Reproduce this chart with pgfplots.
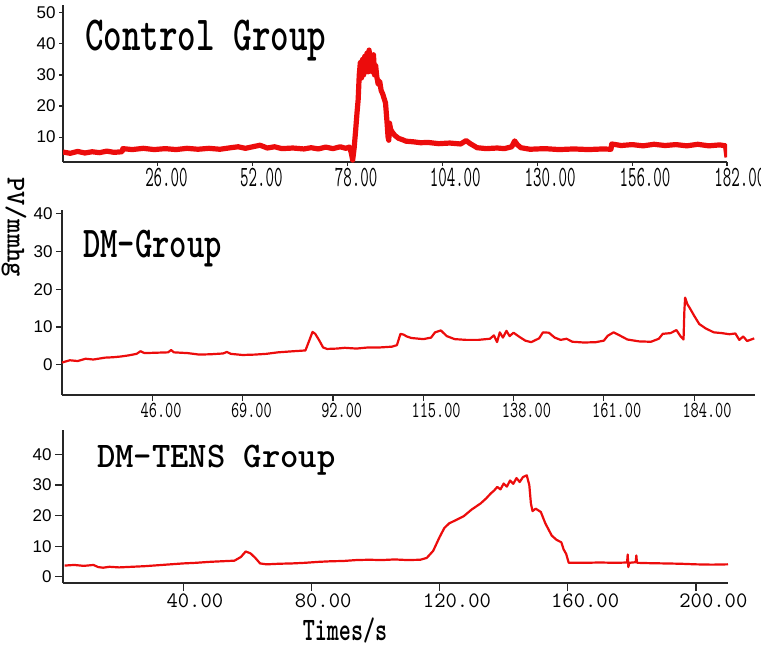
\documentclass[border=0pt]{standalone}
\usepackage{fontspec}
\setmainfont{Liberation Mono}
\newfontfamily\sansf{Liberation Sans}
\usepackage{graphicx}
\usepackage{pgfplots}
\pgfplotsset{compat=1.18}
\definecolor{trace}{RGB}{236,12,12}

\pgfplotsset{
  panel/.style={
    scale only axis,
    axis x line=bottom, axis y line=left,
    axis line style={-, black!85, line width=1pt},
    tick align=outside,
    tick style={black!85, line width=0.6pt},
    minor tick num=0,
    /pgf/number format/assume math mode=true,
    yticklabel style={font=\sansf\fontsize{8.5}{9}\selectfont, inner xsep=1.5pt},
    xticklabel style={anchor=north west, inner xsep=0pt, inner ysep=1pt},
    clip mode=individual,
  },
  trc/.style={trace, line width=#1, line join=round, mark=none},
}

\begin{document}
\begin{tikzpicture}
\useasboundingbox (0,0) rectangle (380.5pt,-324.5pt);

% ---- Control group
\begin{axis}[panel,
  at={(31.5pt,-81pt)}, anchor=south west,
  width=332pt, height=78.5pt,
  xmin=0, xmax=182, ymin=2, ymax=52.5,
  xtick={26,52,78,104,130,156,182},
  ytick={10,20,30,40,50},
  major tick length=2pt,
  xticklabel={\scalebox{0.56}[1]{\pgfmathprintnumber[fixed,fixed zerofill,precision=2]{\tick}}},
  xticklabel style={font=\ttfamily\fontsize{14.7}{14.7}\selectfont, xshift=-6.5pt},
]
\addplot[trc=2.6pt] coordinates {
(0,5.2)(2,4.8)(4,5.4)(6,4.9)(8,5.3)(10,5.0)(12,5.5)(14,5.1)(16.2,5.3)(16.4,6.3)
(19,6.0)(22,6.4)(25,6.0)(28,6.3)(31,6.0)(34,6.4)(37,6.1)(40,6.4)(43,6.1)(46,6.6)
(48,6.9)(50,6.4)(52,6.9)(54,7.4)(56,6.5)(58,6.9)(60,6.3)(63,6.5)(66,6.2)(68,6.6)
(70,6.2)(72,6.8)(74,6.3)(76,6.9)(77.5,6.4)(78.5,6.8)(79,5.0)(79.4,2.6)(79.8,6.5)
(80.2,12)(80.6,18)(80.9,22)(81.2,30)(81.5,34)(81.8,29)(82.1,35)(82.4,30)(82.7,36)
(83.0,31)(83.3,37)(83.6,31)(83.9,38)(84.2,32)(84.5,36)(84.8,31)(85.1,36.5)(85.4,30)
(85.7,33)(86.0,29.5)(86.4,27)(86.8,28)(87.2,25)(87.6,24)(88,22.5)(88.4,21)(88.8,15)
(89.1,10)(89.3,9)(89.5,14.5)(89.8,12.5)(90.3,11.5)(91,10.5)(92,9.6)(93,9.2)(94,8.7)
(96,8.5)(98,8.2)(100,8.3)(103,7.9)(106,8.1)(109,7.8)(110.5,8.9)(111.5,8.0)(112.5,7.3)
(113.5,6.6)(116,6.3)(119,6.5)(121,6.3)(123,6.9)(123.8,8.8)(124.5,7.6)(125.5,6.6)
(128,6.1)(132,6.3)(136,6.0)(140,6.2)(144,6.0)(148,6.2)(150.2,6.1)(150.4,7.8)(153,7.3)
(156,7.6)(159,7.2)(162,7.7)(165,7.3)(168,7.6)(171,7.2)(174,7.7)(177,7.2)(180,7.5)
(181.6,7.2)(182,3.5)
};
\node[anchor=base west, inner sep=0pt, font=\ttfamily\bfseries\fontsize{24.5}{24.5}\selectfont]
  at (rel axis cs:0.033,0.713) {\scalebox{0.72}[1]{Control Group}};
\end{axis}

% ---- DM group
\begin{axis}[panel,
  at={(31pt,-197.5pt)}, anchor=south west,
  width=346.5pt, height=92.5pt,
  xmin=23, xmax=199.5, ymin=-8, ymax=41,
  xtick={46,69,92,115,138,161,184},
  ytick={0,10,20,30,40},
  major tick length=3pt,
  xticklabel={\scalebox{0.69}[1]{\pgfmathprintnumber[fixed,fixed zerofill,precision=2]{\tick}}},
  xticklabel style={font=\ttfamily\fontsize{11.5}{11.5}\selectfont, xshift=-6pt},
]
\addplot[trc=1.1pt] coordinates {
(23,0.6)(25,1.2)(27,1.0)(29,1.6)(31,1.4)(34,1.9)(36,2.0)(38,2.2)(40,2.5)(42,2.9)
(43,3.6)(44,3.1)(47,3.2)(50,3.3)(50.8,3.9)(51.5,3.3)(55,3.1)(58,2.7)(61,2.8)(64,3.0)
(65,3.4)(66,2.9)(69,2.6)(72,2.7)(75,2.9)(78,3.3)(82,3.6)(85,3.8)(86,6.5)(86.8,8.7)
(87.5,8.2)(88.5,6.5)(89.5,4.6)(90.5,4.2)(93,4.3)(95,4.5)(98,4.3)(101,4.6)(104,4.6)
(107,4.8)(108.3,5.2)(109.2,8.2)(110,8.0)(110.8,7.5)(112,7.1)(115,6.8)(117,7.2)
(118,8.6)(119.5,9.1)(121,7.6)(123,6.8)(126,6.6)(129,6.6)(132,6.9)(133,7.8)(133.8,6.0)
(134.5,8.6)(135.3,7.2)(136.2,9.0)(137,7.6)(138,8.5)(139.5,7.4)(141,6.4)(142.5,6.0)
(144.5,7.0)(145.5,8.6)(147,8.5)(148.5,7.2)(150,6.6)(151.5,6.9)(153,6.1)(156,5.9)
(159,6.0)(161,6.4)(162,7.7)(163.5,8.6)(165,7.8)(167,6.7)(170,6.2)(173,6.1)(175,6.9)
(176,8.2)(178,8.4)(179.5,9.2)(180.5,7.6)(181.3,6.7)(181.5,14)(181.7,17.8)(182.3,16)
(182.8,15.2)(184,13)(185.3,10.8)(187,9.6)(189,8.6)(191,8.4)(193,8.1)(194.5,8.3)
(195.5,6.6)(196.5,7.5)(197.5,6.3)(199.3,7.0)
};
\node[anchor=base west, inner sep=0pt, font=\ttfamily\bfseries\fontsize{22}{22}\selectfont]
  at (rel axis cs:0.030,0.746) {\scalebox{0.75}[1]{DM-Group}};
\end{axis}

% ---- DM-TENS group
\begin{axis}[panel,
  at={(31.5pt,-291.5pt)}, anchor=south west,
  width=332.5pt, height=76.5pt,
  xmin=2.5, xmax=210, ymin=-2, ymax=48,
  xtick={40,80,120,160,200},
  ytick={0,10,20,30,40},
  major tick length=4pt,
  xticklabel={\pgfmathprintnumber[fixed,fixed zerofill,precision=2]{\tick}},
  xticklabel style={font=\ttfamily\fontsize{11}{11}\selectfont, xshift=-8.5pt},
]
\addplot[trc=1.1pt] coordinates {
(3,3.7)(6,3.9)(9,3.6)(12,3.9)(13.5,3.2)(15,3.0)(17,3.3)(20,3.1)(24,3.3)(28,3.5)
(32,3.8)(36,4.1)(40,4.4)(44,4.6)(48,4.9)(52,5.1)(56,5.3)(58,6.5)(59.5,8.3)(61,7.7)
(62.5,6.2)(64,4.4)(66,4.1)(70,4.3)(74,4.4)(78,4.6)(82,4.9)(86,5.1)(90,5.2)(94,5.5)
(98,5.6)(102,5.5)(106,5.7)(110,5.5)(114,5.6)(116,6.2)(118,8.5)(120,13)(121.5,16)
(123,17.5)(125,18.5)(127.5,19.8)(130,22)(132.8,24)(134.5,25.6)(136,27.3)(137,28.2)
(138,29.4)(139,28.6)(140,30.5)(141,29.5)(142,31.5)(143,30.4)(144,32.3)(145,31.0)
(146,32.6)(147.2,33.2)(148,30)(148.5,24)(149,21.5)(150,22.3)(151.6,21.2)(153,17.5)
(155,13.5)(156.5,12.1)(158,11.3)(158.7,9.0)(159.5,7.5)(160.3,4.6)(165,4.6)(170,4.7)
(175,4.6)(178.5,4.7)(178.7,7.3)(178.9,3.2)(179.2,4.6)(181.2,4.8)(181.4,7.0)(181.6,4.6)
(185,4.5)(190,4.4)(195,4.3)(200,4.1)(205,4.0)(210,4.1)
};
\node[anchor=base west, inner sep=0pt, font=\ttfamily\bfseries\fontsize{18}{18}\selectfont]
  at (rel axis cs:0.051,0.758) {\scalebox{0.97}[1]{DM-TENS Group}};
\end{axis}

\node[rotate=-90, font=\ttfamily\bfseries\fontsize{13.6}{13.6}\selectfont] at (7pt,-113.5pt) {PV/mmhg};
\node[anchor=base, font=\ttfamily\bfseries\fontsize{16.4}{16.4}\selectfont] at (172.5pt,-320pt)
  {\scalebox{0.7}[1]{Times/s}};
\end{tikzpicture}
\end{document}
